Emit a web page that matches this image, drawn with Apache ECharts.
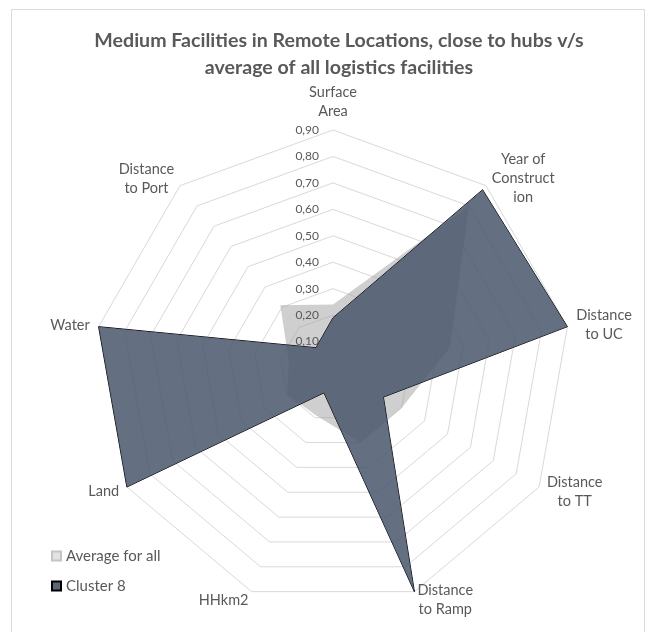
<!DOCTYPE html>
<html>
<head>
<meta charset="utf-8">
<script src="https://cdn.jsdelivr.net/npm/echarts@6/dist/echarts.min.js"></script>
<style>
  html, body { margin: 0; padding: 0; background: #ffffff; }
  #chart { width: 648px; height: 632px; }
</style>
</head>
<body>
<div id="chart"></div>
<script>
// Spokes, listed clockwise from the top
const categories = [
  'Surface\nArea',
  'Year of\nConstruct\nion',
  'Distance\nto UC',
  'Distance\nto TT',
  'Distance\nto Ramp',
  'HHkm2',
  'Land',
  'Water',
  'Distance\nto Port'
];
const averageForAll = [0.24, 0.80, 0.45, 0.30, 0.30, 0.19, 0.20, 0.17, 0.31];
const cluster8 = [0.19, 0.88, 0.90, 0.22, 0.90, 0.10, 0.90, 0.90, 0.10];
const scaleMax = 0.9;
const scaleStep = 0.1;
const tickLabels = ['0,10', '0,20', '0,30', '0,40', '0,50', '0,60', '0,70', '0,80', '0,90'];

// ECharts lays radar spokes out counter-clockwise; keep the first one on top
// and reverse the rest so the order runs clockwise.
const cw = arr => [arr[0]].concat(arr.slice(1).reverse());

const textColor = '#595959';
const font = 'Lato, "Open Sans", sans-serif';
const cx = 333, cy = 368, R = 238;

// Multi-line spoke names: every line centred inside its own block
const nameRich = { c: { align: 'center', fontFamily: font, fontSize: 14.5, color: textColor, lineHeight: 19 } };
const nameFormatter = name => name.split('\n').map(line => '{c|' + line + '}').join('\n');

const chart = echarts.init(document.getElementById('chart'), null, { renderer: 'canvas' });
chart.setOption({
  backgroundColor: '#ffffff',
  animation: false,
  textStyle: { fontFamily: font, color: textColor },
  title: {
    text: 'Medium Facilities in Remote Locations, close to hubs v/s\naverage of all logistics facilities',
    left: 334,
    top: 22,
    textAlign: 'center',
    textStyle: { fontFamily: font, fontSize: 19.6, fontWeight: 'bold', color: textColor, lineHeight: 27 }
  },
  graphic: [{
    type: 'rect',
    shape: { x: 11.5, y: 9.5, width: 633, height: 640 },
    style: { fill: 'none', stroke: '#d9d9d9', lineWidth: 1 },
    silent: true
  }],
  legend: {
    orient: 'vertical',
    left: 51,
    top: 548,
    padding: 0,
    itemWidth: 9,
    itemHeight: 9,
    itemGap: 14,
    icon: 'rect',
    textStyle: { fontFamily: font, fontSize: 15, color: textColor, lineHeight: 16 },
    data: ['Average for all', 'Cluster 8']
  },
  radar: {
    center: [cx, cy],
    radius: R,
    startAngle: 90,
    shape: 'polygon',
    splitNumber: Math.round(scaleMax / scaleStep),
    nameGap: 9,
    axisName: {
      fontFamily: font, fontSize: 14.5, color: textColor, lineHeight: 19,
      formatter: nameFormatter,
      rich: nameRich
    },
    axisLine: { show: false },
    axisTick: { show: false },
    axisLabel: { show: false },
    splitArea: { show: false },
    splitLine: { lineStyle: { color: '#d9d9d9', width: 1 } },
    indicator: cw(categories).map(name => ({ name: name, min: 0, max: scaleMax }))
  },
  // Value scale printed along the top spoke
  grid: { left: cx, top: cy - R, width: 1, height: R },
  xAxis: { type: 'value', show: false },
  yAxis: {
    type: 'value',
    min: 0,
    max: scaleMax,
    interval: scaleStep,
    axisLine: { show: false },
    axisTick: { show: false },
    splitLine: { show: false },
    z: 10,
    axisLabel: {
      showMinLabel: false,
      margin: 14,
      fontFamily: font,
      fontSize: 12,
      color: textColor,
      formatter: v => tickLabels[Math.round(v / scaleStep) - 1] || ''
    }
  },
  series: [
    {
      name: 'Average for all',
      type: 'radar',
      symbol: 'none',
      z: 2,
      itemStyle: { color: '#e3e3e3', borderColor: '#c4c4c4', borderWidth: 1 },
      lineStyle: { width: 0 },
      areaStyle: { color: 'rgba(160,160,160,0.5)', opacity: 1 },
      data: [{ value: cw(averageForAll), name: 'Average for all' }]
    },
    {
      name: 'Cluster 8',
      type: 'radar',
      symbol: 'none',
      z: 3,
      itemStyle: { color: '#5b6777', borderColor: '#000000', borderWidth: 1 },
      lineStyle: { color: '#000000', width: 1 },
      areaStyle: { color: '#4a586c', opacity: 0.86 },
      data: [{ value: cw(cluster8), name: 'Cluster 8' }]
    }
  ]
});
</script>
</body>
</html>
